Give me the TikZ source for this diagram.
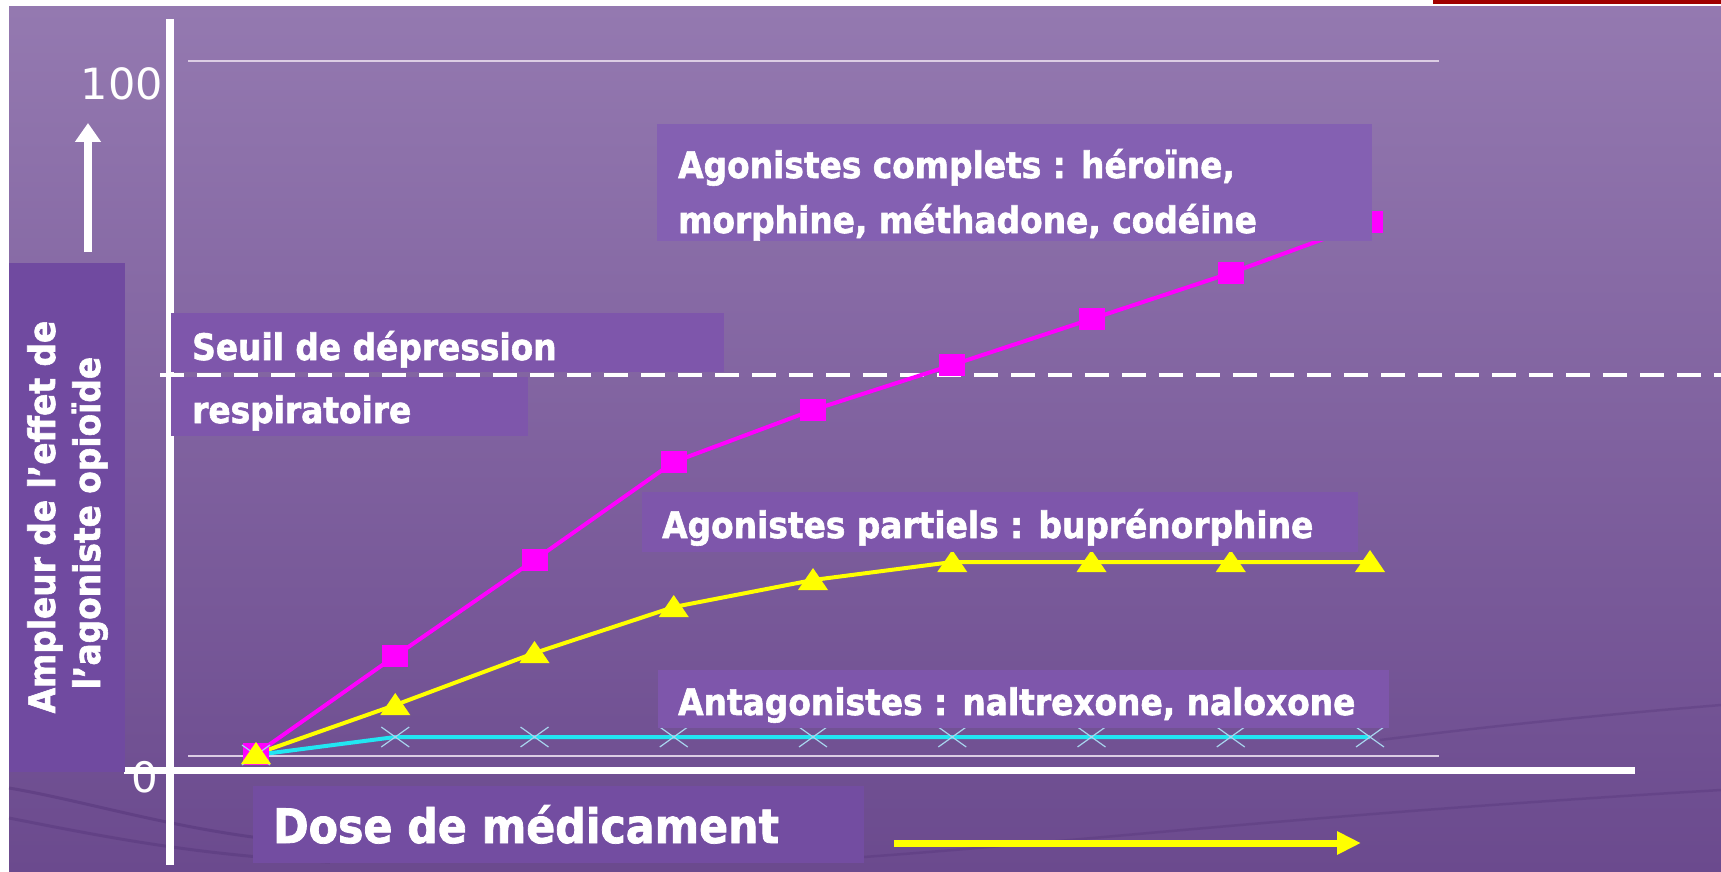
\documentclass[tikz,border=0pt]{standalone}
\usepackage{fontspec}
\setmainfont{DejaVu Sans}
\newfontfamily\condb{DejaVu Sans Condensed Bold}[FakeBold=1.6]
\usetikzlibrary{arrows.meta}
\definecolor{bgtop}{HTML}{9479B0}
\definecolor{bgmid}{HTML}{8566A2}
\definecolor{bgbot}{HTML}{6B4A8E}
\definecolor{boxa}{HTML}{8460B2}
\definecolor{boxb}{HTML}{7E56AB}
\definecolor{boxy}{HTML}{704AA0}
\definecolor{boxd}{HTML}{734DA1}
\definecolor{redbar}{HTML}{A00000}
\definecolor{magc}{HTML}{FF00FF}
\definecolor{yelc}{HTML}{FFFF00}
\definecolor{cyac}{HTML}{22E6F2}
\definecolor{crossc}{HTML}{A8D4EE}
\definecolor{thinc}{HTML}{DCCDE4}
\definecolor{swoosh}{HTML}{4A2A70}
\tikzset{
  lbox/.style={rectangle, inner sep=0pt, draw=none, anchor=north west},
  lbl/.style={anchor=base west, inner sep=0pt, text=white, font=\condb\fontsize{36.5}{44}\selectfont},
  serie/.style={line width=4pt, line join=round},
}
\begin{document}
\begin{tikzpicture}[x=1pt,y=-1pt]
\useasboundingbox (0,0) rectangle (1721,872);
\fill[white] (0,0) rectangle (1721,872);
\shade[top color=bgtop, middle color=bgmid, bottom color=bgbot] (9,7) rectangle (1721,872);
\fill[redbar] (1433,0) rectangle (1721,4);
% faint background swooshes
\draw[swoosh, opacity=0.35, line width=3pt] (9,788) .. controls (80,800) and (160,825) .. (260,838);
\draw[swoosh, opacity=0.3, line width=3pt] (9,818) .. controls (120,840) and (200,855) .. (330,862);
\draw[swoosh, opacity=0.25, line width=2.5pt] (850,858) .. controls (1100,840) and (1300,815) .. (1721,790);
\draw[swoosh, opacity=0.25, line width=2.5pt] (1380,740) .. controls (1500,725) and (1600,715) .. (1721,705);
% thin reference lines
\coordinate (tl1) at (188,61); \coordinate (tl2) at (1439,61);
\coordinate (bl1) at (188,756); \coordinate (bl2) at (1439,756);
\draw[thinc, line width=2pt] (tl1) -- (tl2);
\draw[thinc, line width=2pt] (bl1) -- (bl2);
% threshold dashed line
\coordinate (d1) at (160,375); \coordinate (d2) at (1721,375);
\draw[white, line width=3.5pt, dash pattern=on 24pt off 13pt] (d1) -- (d2);
% axes
\coordinate (va1) at (170,19); \coordinate (va2) at (170,865);
\coordinate (ha1) at (124,770); \coordinate (ha2) at (1635,770);
\draw[white, line width=8pt] (va1) -- (va2);
\draw[white, line width=7pt] (ha1) -- (ha2);
% data
\foreach \i/\yv in {0/754,1/656,2/560,3/462,4/410,5/365,6/319,7/273,8/222}
  \coordinate (m\i) at ({256+139.25*\i},\yv);
\foreach \i/\yv in {0/754,1/705,2/653,3/607,4/580,5/562,6/562,7/562,8/562}
  \coordinate (p\i) at ({256+139.25*\i},\yv);
\foreach \i/\yv in {0/755,1/737,2/737,3/737,4/737,5/737,6/737,7/737,8/737}
  \coordinate (a\i) at ({256+139.25*\i},\yv);
\draw[serie, magc] (m0) -- (m1) -- (m2) -- (m3) -- (m4) -- (m5) -- (m6) -- (m7) -- (m8);
\draw[serie, yelc] (p0) -- (p1) -- (p2) -- (p3) -- (p4) -- (p5) -- (p6) -- (p7) -- (p8);
\draw[serie, cyac] (a0) -- (a1) -- (a2) -- (a3) -- (a4) -- (a5) -- (a6) -- (a7) -- (a8);
\foreach \i in {0,...,8}
  \fill[magc, shift={(m\i)}] (-13,-11) rectangle (13,11);
\foreach \i in {0,...,8}
  \draw[crossc, line width=1.2pt, shift={(a\i)}] (-14,-10) -- (14,10) (-14,10) -- (14,-10);
\foreach \i in {0,...,8}
  \fill[yelc, shift={(p\i)}] (0,-12) -- (15,10) -- (-15,10) -- cycle;
% label boxes
\node[lbox, fill=boxy, minimum width=116pt, minimum height=509pt] (byl) at (9,263) {};
\node[lbox, fill=boxa, minimum width=715pt, minimum height=117pt] (bcomp) at (657,124) {};
\node[lbox, fill=boxb, minimum width=553pt, minimum height=59pt] (bseuil1) at (171,313) {};
\node[lbox, fill=boxb, minimum width=357pt, minimum height=59pt] (bseuil2) at (171,377) {};
\node[lbox, fill=boxb, minimum width=716pt, minimum height=60pt] (bpart) at (642,492) {};
\node[lbox, fill=boxb, minimum width=731pt, minimum height=58pt] (bant) at (658,670) {};
\node[lbox, fill=boxd, minimum width=611pt, minimum height=77pt] (bdose) at (253,786) {};
% texts
\node[lbl] (tcomp1) at (678,178) {Agonistes complets : héroïne,};
\node[lbl] (tcomp2) at (678,233) {morphine, méthadone, codéine};
\node[lbl] (tseuil1) at (192,360) {Seuil de dépression};
\node[lbl] (tseuil2) at (192,423) {respiratoire};
\node[lbl] (tpart) at (662,538) {Agonistes partiels : buprénorphine};
\node[lbl] (tant) at (678,715) {Antagonistes : naltrexone, naloxone};
\node[lbl, font=\condb\fontsize{47.5}{56}\selectfont] (tdose) at (273,843) {Dose de médicament};
\node[lbl, anchor=base, rotate=90] (ty1) at (55,517) {Ampleur de l’effet de};
\node[lbl, anchor=base, rotate=90] (ty2) at (100,523) {l’agoniste opioïde};
\node[anchor=base east, inner sep=0pt, text=white, font=\fontsize{43}{48}\selectfont] (t100) at (163,100) {100};
\node[anchor=base, inner sep=0pt, text=white, font=\fontsize{42}{46}\selectfont] (t0) at (145,792) {0};
% arrows
\coordinate (ua1) at (88,252); \coordinate (ua2) at (88,123);
\draw[white, line width=8pt, -{Triangle[width=25pt,length=19pt]}] (ua1) -- (ua2);
\coordinate (ya1) at (894,843); \coordinate (ya2) at (1361,843);
\draw[yelc, line width=7pt, -{Triangle[width=22pt,length=24pt]}] (ya1) -- (ya2);
\end{tikzpicture}
\end{document}
